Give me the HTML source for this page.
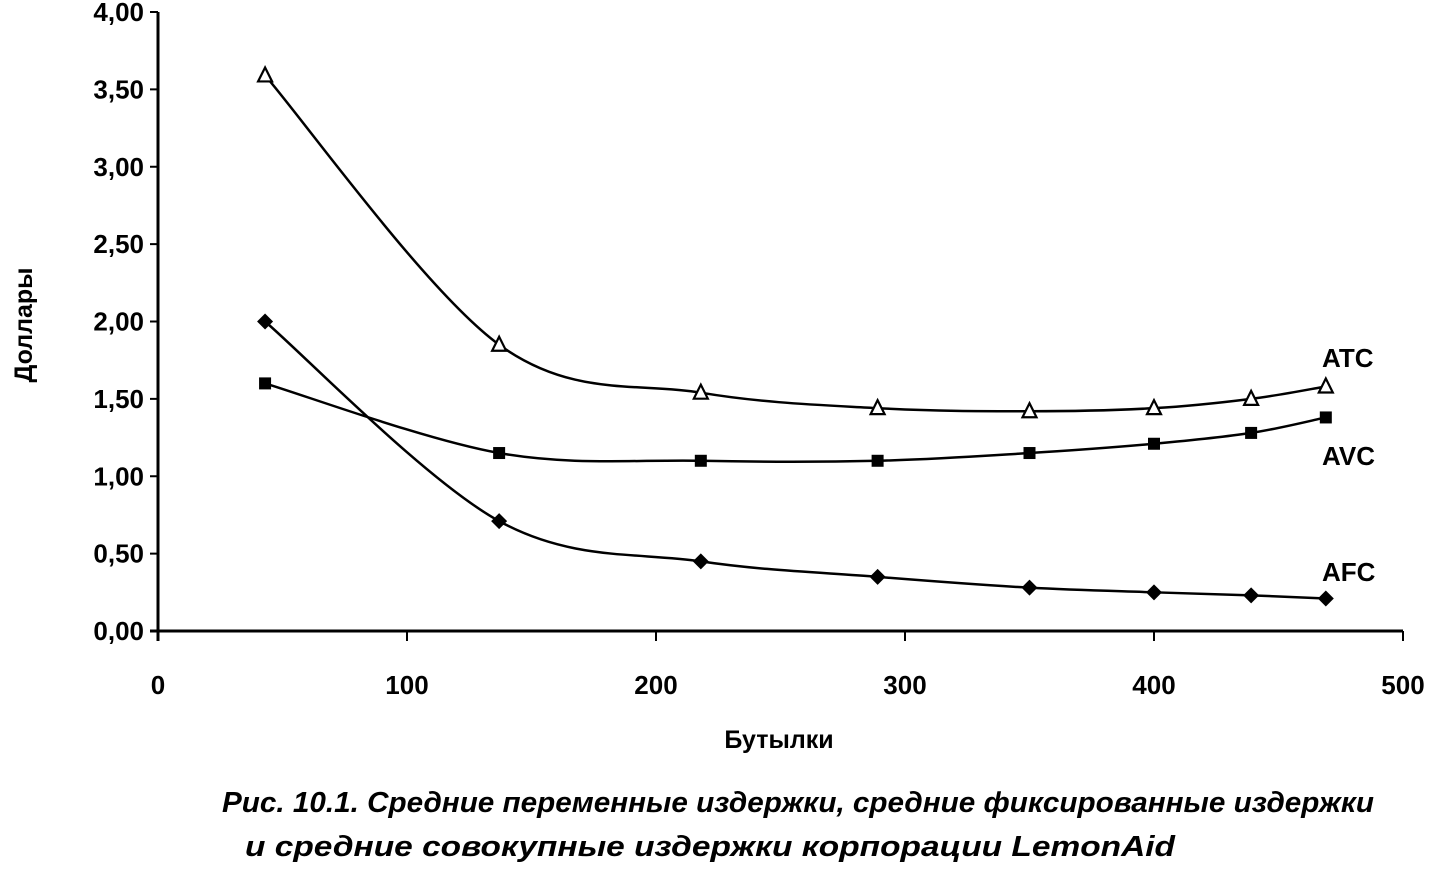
<!DOCTYPE html>
<html><head><meta charset="utf-8"><style>
body{margin:0;background:#fff;}
svg text{font-family:"Liberation Sans",Arial,sans-serif;fill:#000;}
</style></head><body>
<svg width="1431" height="864" viewBox="0 0 1431 864" xmlns="http://www.w3.org/2000/svg">
<g id="axes"></g>
<g id="series"></g>
<text transform="translate(32,325) rotate(-90)" text-anchor="middle" font-size="25" font-weight="bold">Доллары</text>
<text x="779" y="748" text-anchor="middle" font-size="25" font-weight="bold">Бутылки</text>
<text x="798" y="812" text-anchor="middle" font-size="29" font-weight="bold" font-style="italic" textLength="1152" lengthAdjust="spacingAndGlyphs">Рис. 10.1. Средние переменные издержки, средние фиксированные издержки</text>
<text x="710" y="856" text-anchor="middle" font-size="29" font-weight="bold" font-style="italic" textLength="930" lengthAdjust="spacingAndGlyphs">и средние совокупные издержки корпорации LemonAid</text>
<text x="1322" y="367" font-size="26" font-weight="bold">ATC</text>
<text x="1322" y="465" font-size="26" font-weight="bold">AVC</text>
<text x="1322" y="581" font-size="26" font-weight="bold">AFC</text>
</svg>
<script>
const bottles=[43,137,218,289,350,400,439,469];
const atc=[3.59,1.85,1.54,1.44,1.42,1.44,1.50,1.58];
const avc=[1.60,1.15,1.10,1.10,1.15,1.21,1.28,1.38];
const afc=[2.00,0.71,0.45,0.35,0.28,0.25,0.23,0.21];
const yTicks=["0,00","0,50","1,00","1,50","2,00","2,50","3,00","3,50","4,00"];
const xTicks=[0,100,200,300,400,500];
const NS="http://www.w3.org/2000/svg";
const X0=158,X1=1403,Y0=631,Y1=12;
const xs=v=>X0+(v/500)*(X1-X0);
const ys=v=>Y0-(v/4)*(Y0-Y1);
function mk(t,a,p){const e=document.createElementNS(NS,t);for(const k in a)e.setAttribute(k,a[k]);p.appendChild(e);return e;}
const ax=document.getElementById('axes');
let l=mk('line',{x1:X0,y1:Y1,x2:X0,y2:Y0+10,stroke:'#000','stroke-width':3},ax);


l=mk('line',{x1:X0-8,y1:Y0,x2:X1,y2:Y0,stroke:'#000','stroke-width':3},ax);


yTicks.forEach((t,i)=>{const v=i*0.5;
 const tk=mk('line',{x1:X0-8,y1:ys(v),x2:X0,y2:ys(v),stroke:'#000','stroke-width':2},ax);
 
 
 const tx=mk('text',{x:X0-14,y:ys(v)+9,'text-anchor':'end','font-size':26,'font-weight':'bold'},ax);tx.textContent=t;
 
 });
xTicks.forEach(v=>{
 const tk=mk('line',{x1:xs(v),y1:Y0,x2:xs(v),y2:Y0+10,stroke:'#000','stroke-width':2},ax);
 
 
 const tx=mk('text',{x:xs(v),y:Y0+63,'text-anchor':'middle','font-size':26,'font-weight':'bold'},ax);tx.textContent=v;
 
 });
const sg=document.getElementById('series');
function path(vals){const p=bottles.map((b,i)=>[xs(b),ys(vals[i])]);let d='M'+p[0];
 for(let i=0;i<p.length-1;i++){const a=p[i-1]||p[i],b=p[i],c=p[i+1],e=p[i+2]||c;
 const c1=[b[0]+(c[0]-a[0])/6,b[1]+(c[1]-a[1])/6],c2=[c[0]-(e[0]-b[0])/6,c[1]-(e[1]-b[1])/6];
 d+=' C'+c1+' '+c2+' '+c;}return d;}
[[atc,'atc'],[avc,'avc'],[afc,'afc']].forEach(([vals,n])=>{
 const pth=mk('path',{d:path(vals),fill:'none',stroke:'#000','stroke-width':2.5},sg);
 
 
 vals.forEach((v,i)=>{const x=xs(bottles[i]),y=ys(v);let m;
  if(n==='atc')m=mk('polygon',{points:`${x},${y-8} ${x-7},${y+6} ${x+7},${y+6}`,fill:'#fff',stroke:'#000','stroke-width':2.2},sg);
  else if(n==='avc')m=mk('rect',{x:x-6,y:y-6,width:12,height:12,fill:'#000'},sg);
  else m=mk('polygon',{points:`${x},${y-8} ${x+8},${y} ${x},${y+8} ${x-8},${y}`,fill:'#000'},sg);
  
  });
});
</script>
</body></html>
